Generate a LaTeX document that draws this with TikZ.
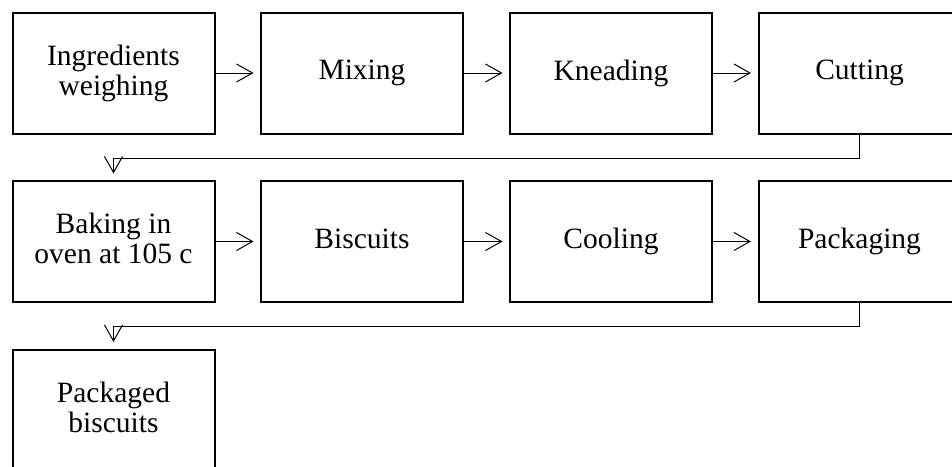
\documentclass[tikz,border=0pt]{standalone}
\usepackage{fontspec}
\setmainfont{Liberation Serif}
\usetikzlibrary{arrows.meta}
\newcommand{\dscfix}{\vphantom{g}}
\begin{document}
\begin{tikzpicture}[x=1pt,y=-1pt,
  stepbox/.style={draw, line width=2pt, minimum width=202pt, minimum height=121pt,
    inner sep=0pt, align=center, font=\fontsize{29.5}{30}\selectfont},
  conn/.style={line width=1pt, -{Straight Barb[length=16pt,width=18pt,line width=1pt]}, shorten >=6.5pt}
]
\clip (0,0) rectangle (952,466);
\useasboundingbox (0,0) rectangle (952,466);
\node[stepbox] (a1) at (113.5,73) {Ingredients\\weighing};
\node[stepbox] (a2) at (362,73) {Mixing};
\node[stepbox] (a3) at (611,73) {Kneading};
\node[stepbox] (a4) at (859.5,73) {Cutting};
\node[stepbox] (b1) at (113.5,241.5) {Baking in\\oven at 105 c\dscfix};
\node[stepbox] (b2) at (362,241.5) {Biscuits\dscfix};
\node[stepbox] (b3) at (611,241.5) {Cooling};
\node[stepbox] (b4) at (859.5,241.5) {Packaging};
\node[stepbox] (c1) at (113.5,410) {Packaged\\biscuits\dscfix};
\draw[conn] (a1) -- (a2);
\draw[conn] (a2) -- (a3);
\draw[conn] (a3) -- (a4);
\draw[conn] (a4.south) -- ++(0,23.5) -| (b1.north);
\draw[conn] (b1) -- (b2);
\draw[conn] (b2) -- (b3);
\draw[conn] (b3) -- (b4);
\draw[conn] (b4.south) -- ++(0,23) -| (c1.north);
\end{tikzpicture}
\end{document}
